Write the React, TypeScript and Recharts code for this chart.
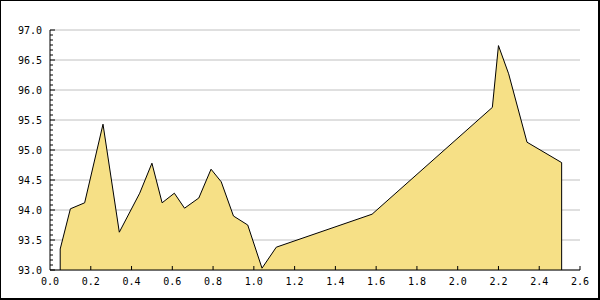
import React from "react";
import {
  AreaChart,
  Area,
  XAxis,
  YAxis,
  CartesianGrid,
  ReferenceLine,
} from "recharts";

const xValues = [
  0.05, 0.1, 0.17, 0.26, 0.34, 0.44, 0.5, 0.55, 0.61, 0.66, 0.73, 0.79, 0.84,
  0.9, 0.97, 1.04, 1.11, 1.58, 2.17, 2.2, 2.25, 2.34, 2.51,
];
const yValues = [
  93.35, 94.02, 94.12, 95.43, 93.63, 94.28, 94.78, 94.12, 94.28, 94.03, 94.2,
  94.68, 94.47, 93.9, 93.75, 93.03, 93.38, 93.93, 95.71, 96.74, 96.27, 95.13,
  94.79,
];
const xTicks = [0, 0.2, 0.4, 0.6, 0.8, 1.0, 1.2, 1.4, 1.6, 1.8, 2.0, 2.2, 2.4, 2.6];
const yMajorTicks = [93, 93.5, 94, 94.5, 95, 95.5, 96, 96.5, 97];
const minorPerMajor = 6;

const data = xValues.map((x, i) => ({ x, y: yValues[i] }));

// major ticks plus evenly spaced minor ticks between them
const yAllTicks: number[] = [];
yMajorTicks.forEach((v, i) => {
  yAllTicks.push(v);
  if (i < yMajorTicks.length - 1) {
    const step = (yMajorTicks[i + 1] - v) / minorPerMajor;
    for (let k = 1; k < minorPerMajor; k++) yAllTicks.push(v + step * k);
  }
});
const isMajor = (v: number) =>
  yMajorTicks.some((m) => Math.abs(m - v) < 1e-6);

const font = "'DejaVu Sans Mono', monospace";

const YTick = (props: any) => {
  const { x, y, payload } = props;
  const ax = x + 8;
  const major = isMajor(payload.value);
  return (
    <g>
      <line x1={ax} x2={ax + (major ? 5 : 3)} y1={y} y2={y} stroke="#000" />
      {major && (
        <text x={x} y={y + 3.5} textAnchor="end" fontFamily={font} fontSize={10} fill="#000">
          {payload.value.toFixed(1)}
        </text>
      )}
    </g>
  );
};

const XTick = (props: any) => {
  const { x, y, payload } = props;
  return (
    <g>
      {payload.value > 0 && (
        <line x1={x} x2={x} y1={y} y2={y - 4} stroke="#000" />
      )}
      <text x={x} y={y + 14.5} textAnchor="middle" fontFamily={font} fontSize={10} fill="#000">
        {payload.value.toFixed(1)}
      </text>
    </g>
  );
};

export default function App() {
  const first = data[0];
  const last = data[data.length - 1];
  return (
    <div style={{ position: "fixed", left: 0, top: 0, width: 600, height: 300, background: "#fff" }}>
      <AreaChart
        width={600}
        height={300}
        data={data}
        margin={{ top: 30, right: 20, left: 0, bottom: 0 }}
      >
        <CartesianGrid
          vertical={false}
          horizontalValues={yMajorTicks}
          stroke="#c0c0c0"
          strokeWidth={1}
        />
        <XAxis
          dataKey="x"
          type="number"
          domain={[0, 2.6]}
          ticks={xTicks}
          interval={0}
          height={30}
          tickSize={0}
          tickMargin={0}
          axisLine={{ stroke: "#000" }}
          tickLine={false}
          tick={<XTick />}
        />
        <YAxis
          type="number"
          domain={[93, 97]}
          ticks={yAllTicks}
          interval={0}
          width={50}
          tickSize={0}
          tickMargin={8}
          axisLine={{ stroke: "#000" }}
          tickLine={false}
          tick={<YTick />}
        />
        <Area
          type="linear"
          dataKey="y"
          baseValue={93}
          fill="#f6e086"
          fillOpacity={1}
          stroke="#000"
          strokeWidth={1}
          isAnimationActive={false}
          dot={false}
          activeDot={false}
        />
        <ReferenceLine
          segment={[{ x: first.x, y: 93 }, { x: first.x, y: first.y }]}
          stroke="#000"
        />
        <ReferenceLine
          segment={[{ x: last.x, y: 93 }, { x: last.x, y: last.y }]}
          stroke="#000"
        />
      </AreaChart>
      <div
        style={{
          position: "absolute",
          left: 0,
          top: 0,
          width: 600,
          height: 300,
          boxSizing: "border-box",
          borderStyle: "solid",
          borderColor: "#000",
          borderWidth: "1px 2px 2px 1px",
          pointerEvents: "none",
        }}
      />
    </div>
  );
}
